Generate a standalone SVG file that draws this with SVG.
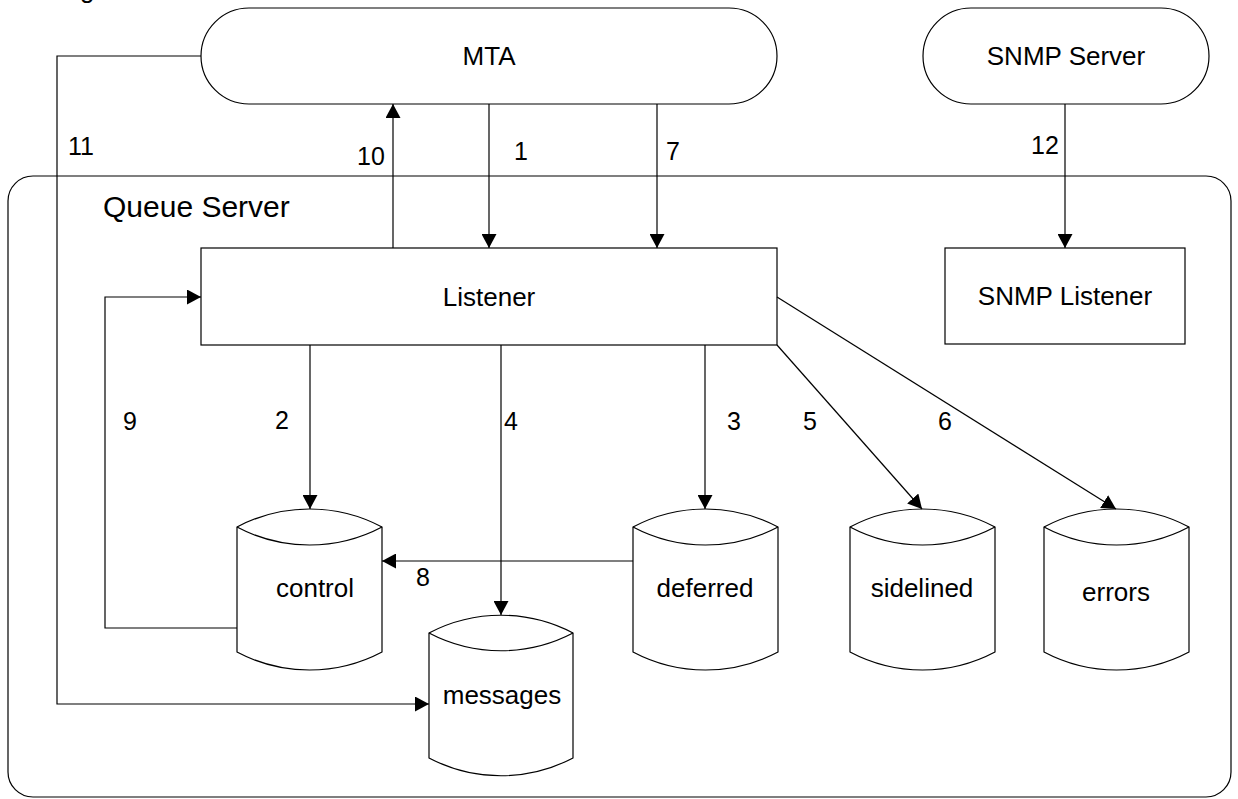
<svg xmlns="http://www.w3.org/2000/svg" width="1238" height="799" viewBox="0 0 1238 799">
  <style>
    .shape { fill: #fff; stroke: #000; stroke-width: 1.2; }
    .frame { fill: none; stroke: #000; stroke-width: 1.2; }
    .line { fill: none; stroke: #000; stroke-width: 1.2; }
    .txt { font-family: "Liberation Sans", Arial, sans-serif; font-size: 26px; fill: #000; }
    .mid { text-anchor: middle; }
    .num { font-family: "Liberation Sans", Arial, sans-serif; font-size: 25px; fill: #000; }
    .title { font-family: "Liberation Sans", Arial, sans-serif; font-size: 30px; fill: #000; }
  </style>
  <defs>
    <marker id="arrow" viewBox="0 0 14 15" refX="14" refY="7.5" markerWidth="14" markerHeight="15" markerUnits="userSpaceOnUse" orient="auto">
      <path d="M0,0 L14,7.5 L0,15 Z" fill="#000"/>
    </marker>
  </defs>

  <rect width="1238" height="799" fill="#fff"/>

  <!-- caption line clipped at the top edge -->
  <text class="txt" x="80" y="-2.5">g</text>

  <!-- container -->
  <g id="queue-server">
    <rect class="frame" x="8" y="176" width="1223" height="621" rx="25" ry="25"/>
    <text class="title" x="103" y="217">Queue Server</text>
  </g>

  <!-- external systems -->
  <g id="mta">
    <rect class="shape" x="201" y="8" width="576" height="96" rx="48" ry="48"/>
    <text class="txt mid" x="489" y="65">MTA</text>
  </g>
  <g id="snmp-server">
    <rect class="shape" x="923" y="8" width="286" height="96" rx="48" ry="48"/>
    <text class="txt mid" x="1066" y="65">SNMP Server</text>
  </g>

  <!-- listeners -->
  <g id="listener">
    <rect class="shape" x="201" y="248" width="576" height="97"/>
    <text class="txt mid" x="489" y="306">Listener</text>
  </g>
  <g id="snmp-listener">
    <rect class="shape" x="945" y="248" width="240" height="96"/>
    <text class="txt mid" x="1065" y="305">SNMP Listener</text>
  </g>

  <!-- queues -->
  <g id="control">
    <path class="shape" d="M237,527 A155,155 0 0 1 382,527 L382,652 A155,155 0 0 1 237,652 Z"/>
    <path class="line" d="M237,527 A155,155 0 0 0 382,527"/>
    <text class="txt mid" x="315" y="597">control</text>
  </g>
  <g id="messages">
    <path class="shape" d="M429,633 A155,155 0 0 1 573,633 L573,758 A155,155 0 0 1 429,758 Z"/>
    <path class="line" d="M429,633 A155,155 0 0 0 573,633"/>
    <text class="txt mid" x="502" y="704">messages</text>
  </g>
  <g id="deferred">
    <path class="shape" d="M633,527 A155,155 0 0 1 778,527 L778,652 A155,155 0 0 1 633,652 Z"/>
    <path class="line" d="M633,527 A155,155 0 0 0 778,527"/>
    <text class="txt mid" x="705" y="597">deferred</text>
  </g>
  <g id="sidelined">
    <path class="shape" d="M850,527 A155,155 0 0 1 995,527 L995,652 A155,155 0 0 1 850,652 Z"/>
    <path class="line" d="M850,527 A155,155 0 0 0 995,527"/>
    <text class="txt mid" x="922" y="597">sidelined</text>
  </g>
  <g id="errors">
    <path class="shape" d="M1044,527 A155,155 0 0 1 1189,527 L1189,652 A155,155 0 0 1 1044,652 Z"/>
    <path class="line" d="M1044,527 A155,155 0 0 0 1189,527"/>
    <text class="txt mid" x="1116" y="601">errors</text>
  </g>

  <!-- connectors -->
  <g id="connectors">
    <path class="line" d="M489,104 V248" marker-end="url(#arrow)"/>
    <path class="line" d="M657,104 V248" marker-end="url(#arrow)"/>
    <path class="line" d="M393,248 V104" marker-end="url(#arrow)"/>
    <path class="line" d="M1065,104 V248" marker-end="url(#arrow)"/>
    <path class="line" d="M201,56 H57 V704 H429" marker-end="url(#arrow)"/>
    <path class="line" d="M310,345 V509" marker-end="url(#arrow)"/>
    <path class="line" d="M501,345 V615" marker-end="url(#arrow)"/>
    <path class="line" d="M705,345 V509" marker-end="url(#arrow)"/>
    <path class="line" d="M777,345 L922,509" marker-end="url(#arrow)"/>
    <path class="line" d="M777,297 L1116,509" marker-end="url(#arrow)"/>
    <path class="line" d="M633,561 H382" marker-end="url(#arrow)"/>
    <path class="line" d="M237,628 H105 V297 H201" marker-end="url(#arrow)"/>

    <text class="num" x="68" y="155">11</text>
    <text class="num" x="357" y="165">10</text>
    <text class="num" x="514" y="160">1</text>
    <text class="num" x="666" y="160">7</text>
    <text class="num" x="1031" y="154">12</text>
    <text class="num" x="275" y="429">2</text>
    <text class="num" x="504" y="430">4</text>
    <text class="num" x="727" y="430">3</text>
    <text class="num" x="803" y="430">5</text>
    <text class="num" x="938" y="430">6</text>
    <text class="num" x="123" y="430">9</text>
    <text class="num" x="416" y="586">8</text>
  </g>
</svg>
